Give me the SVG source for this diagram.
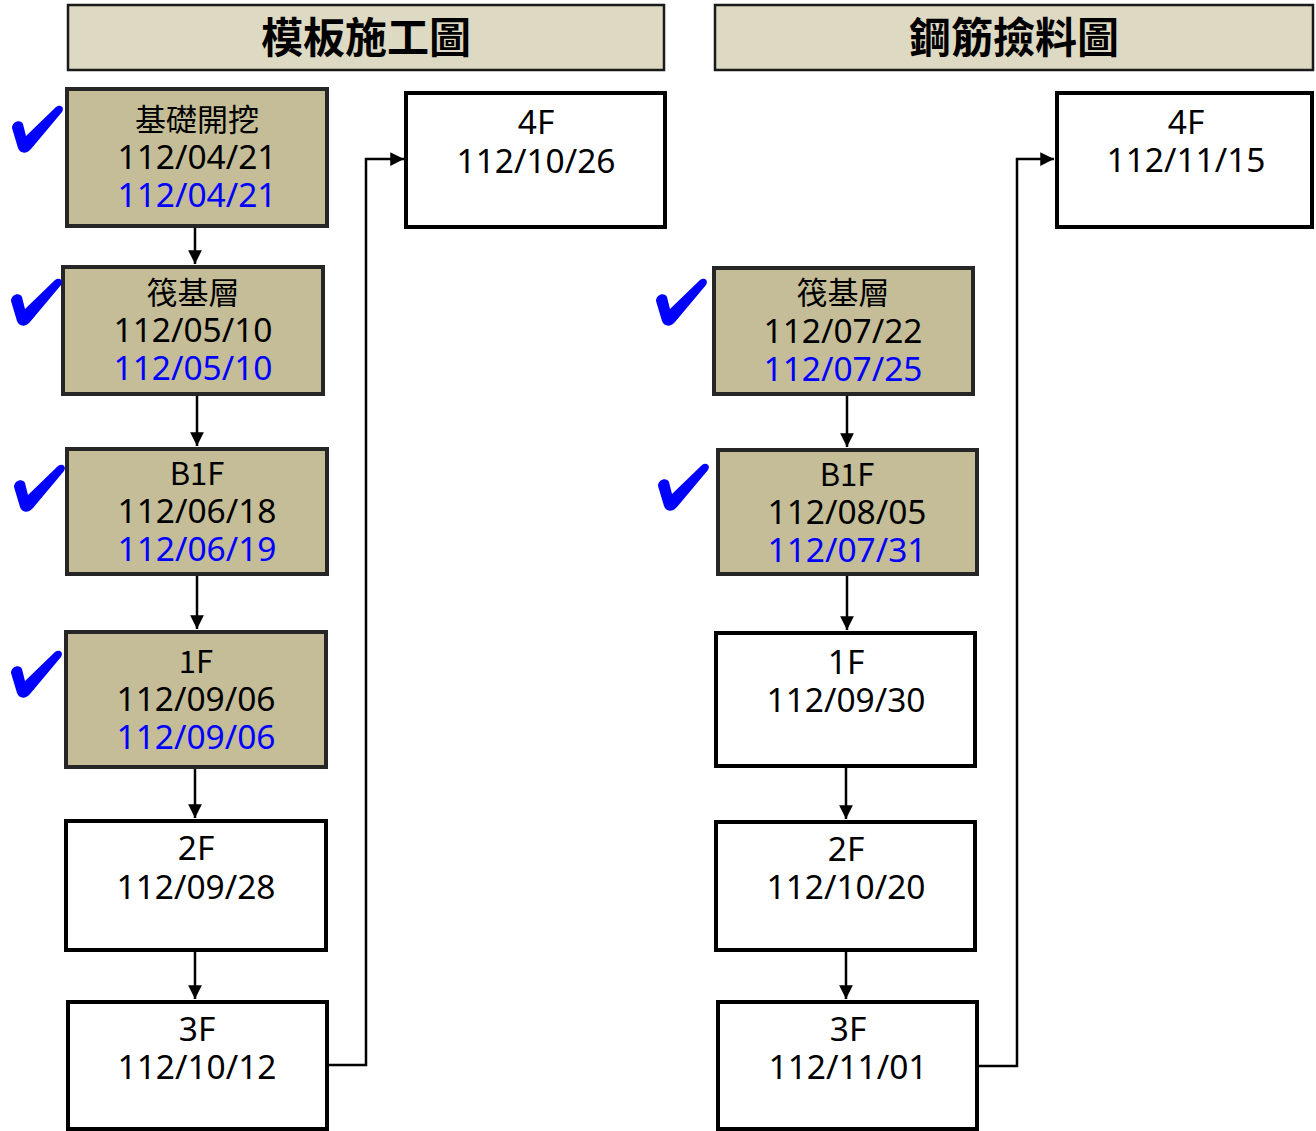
<svg xmlns="http://www.w3.org/2000/svg" xmlns:xlink="http://www.w3.org/1999/xlink" width="1316" height="1131" viewBox="0 0 1316 1131">
<style>
.hdr{fill:#ddd9c3;stroke:#1a1a1a;stroke-width:2.5}
.hdt{font-family:"Noto Sans CJK TC","Noto Sans",sans-serif;font-size:42px;font-weight:bold;fill:#000;text-anchor:middle}
.done{fill:#c4bd97;stroke:#262626;stroke-width:4}
.todo{fill:#fff;stroke:#000;stroke-width:4}
.t{font-family:"Noto Sans","Noto Sans CJK TC",sans-serif;font-size:33.5px;fill:#000;text-anchor:middle}
.k{font-family:"Noto Sans CJK TC","Noto Sans",sans-serif;font-size:31px}
.b{fill:#0000ff}
.c{fill:none;stroke:#000;stroke-width:2.5}
</style>
<defs>
<marker id="ah" viewBox="0 0 10 10" refX="10" refY="5" markerWidth="5.5" markerHeight="5.5" markerUnits="strokeWidth" orient="auto">
<path d="M0,0L10,5L0,10z" fill="#000"/>
</marker>
<path id="chk" fill="#0000ff" d="M2,23 C2,16 11,14 13,19 L16,31 L46,2 C50,-1 55,2 52,7 L21,44 C17,49 10,49 8,43 Z"/>
</defs>
<g id="header-left"><rect class="hdr" x="68" y="5" width="596" height="65"/><text class="hdt" x="366" y="53">模板施工圖</text></g>
<g id="header-right"><rect class="hdr" x="715" y="5" width="598" height="65"/><text class="hdt" x="1014" y="53">鋼筋撿料圖</text></g>

<g id="connectors">
<path class="c" d="M195,226V264" marker-end="url(#ah)"/>
<path class="c" d="M197,395V446" marker-end="url(#ah)"/>
<path class="c" d="M197,575V629" marker-end="url(#ah)"/>
<path class="c" d="M195,768V818" marker-end="url(#ah)"/>
<path class="c" d="M195,950V999" marker-end="url(#ah)"/>
<path class="c" d="M327,1065H366V159H404" marker-end="url(#ah)"/>
<path class="c" d="M847,395V447" marker-end="url(#ah)"/>
<path class="c" d="M847,575V630" marker-end="url(#ah)"/>
<path class="c" d="M846,767V819" marker-end="url(#ah)"/>
<path class="c" d="M846,951V999" marker-end="url(#ah)"/>
<path class="c" d="M977,1066H1017V159H1054" marker-end="url(#ah)"/>
</g>

<g id="L1"><rect class="done" x="67" y="89" width="260" height="137"/>
<text class="t"><tspan class="k" x="197" y="131">基礎開挖</tspan><tspan x="197" y="169">112/04/21</tspan><tspan class="b" x="197" y="207">112/04/21</tspan></text>
<use xlink:href="#chk" href="#chk" x="10" y="105"/></g>
<g id="L2"><rect class="done" x="63" y="267" width="260" height="127"/>
<text class="t"><tspan class="k" x="193" y="304">筏基層</tspan><tspan x="193" y="342">112/05/10</tspan><tspan class="b" x="193" y="380">112/05/10</tspan></text>
<use xlink:href="#chk" href="#chk" x="9" y="278"/></g>
<g id="L3"><rect class="done" x="67" y="449" width="260" height="125"/>
<text class="t"><tspan class="k" x="197" y="485">B1F</tspan><tspan x="197" y="523">112/06/18</tspan><tspan class="b" x="197" y="561">112/06/19</tspan></text>
<use xlink:href="#chk" href="#chk" x="12" y="464"/></g>
<g id="L4"><rect class="done" x="66" y="632" width="260" height="135"/>
<text class="t"><tspan class="k" x="196" y="673">1F</tspan><tspan x="196" y="711">112/09/06</tspan><tspan class="b" x="196" y="749">112/09/06</tspan></text>
<use xlink:href="#chk" href="#chk" x="9" y="650"/></g>
<g id="L5"><rect class="todo" x="66" y="821" width="260" height="129"/>
<text class="t"><tspan x="196" y="860">2F</tspan><tspan x="196" y="899">112/09/28</tspan></text></g>
<g id="L6"><rect class="todo" x="68" y="1002" width="259" height="127"/>
<text class="t"><tspan x="197" y="1041">3F</tspan><tspan x="197" y="1079">112/10/12</tspan></text></g>
<g id="L7"><rect class="todo" x="406" y="93" width="259" height="134"/>
<text class="t"><tspan x="536" y="134">4F</tspan><tspan x="536" y="173">112/10/26</tspan></text></g>

<g id="R2"><rect class="done" x="714" y="268" width="259" height="126"/>
<text class="t"><tspan class="k" x="843" y="304">筏基層</tspan><tspan x="843" y="343">112/07/22</tspan><tspan class="b" x="843" y="381">112/07/25</tspan></text>
<use xlink:href="#chk" href="#chk" x="654" y="278"/></g>
<g id="R3"><rect class="done" x="718" y="450" width="259" height="124"/>
<text class="t"><tspan class="k" x="847" y="486">B1F</tspan><tspan x="847" y="524">112/08/05</tspan><tspan class="b" x="847" y="562">112/07/31</tspan></text>
<use xlink:href="#chk" href="#chk" x="656" y="463"/></g>
<g id="R4"><rect class="todo" x="716" y="633" width="259" height="133"/>
<text class="t"><tspan x="846" y="674">1F</tspan><tspan x="846" y="712">112/09/30</tspan></text></g>
<g id="R5"><rect class="todo" x="716" y="822" width="259" height="128"/>
<text class="t"><tspan x="846" y="861">2F</tspan><tspan x="846" y="899">112/10/20</tspan></text></g>
<g id="R6"><rect class="todo" x="718" y="1002" width="259" height="127"/>
<text class="t"><tspan x="848" y="1041">3F</tspan><tspan x="848" y="1079">112/11/01</tspan></text></g>
<g id="R7"><rect class="todo" x="1057" y="93" width="255" height="134"/>
<text class="t"><tspan x="1186" y="134">4F</tspan><tspan x="1186" y="172">112/11/15</tspan></text></g>
</svg>
